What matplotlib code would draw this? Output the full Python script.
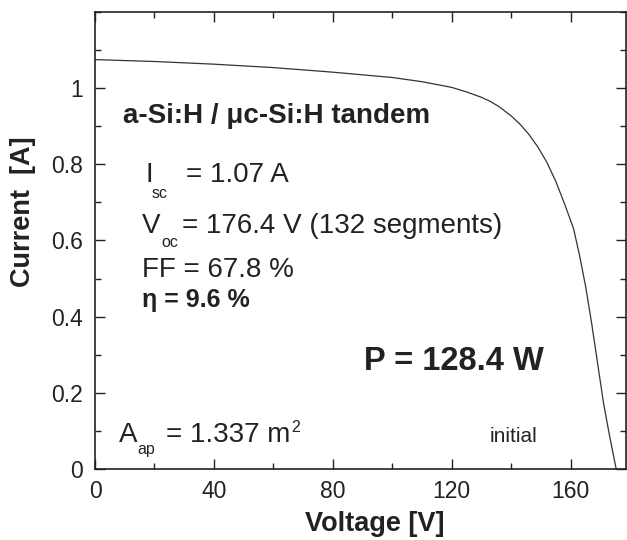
import matplotlib
matplotlib.use("Agg")
import matplotlib.pyplot as plt
from matplotlib.ticker import MultipleLocator

# Data
voltage = [0, 20, 40, 60, 80, 100, 110, 120, 125, 130, 133, 136, 140, 143, 146, 149, 152, 155, 158, 161, 163,
           165, 167, 169, 171, 173, 175.3]
current = [1.075, 1.070, 1.063, 1.054, 1.042, 1.028, 1.017, 1.002, 0.990, 0.976, 0.965, 0.951, 0.927, 0.905,
           0.878, 0.845, 0.805, 0.755, 0.695, 0.630, 0.560, 0.480, 0.385, 0.280, 0.175, 0.090, 0.0]
xticks = [0, 40, 80, 120, 160]
yticks = [0, 0.2, 0.4, 0.6, 0.8, 1.0]
yticklabels = ["0", "0.2", "0.4", "0.6", "0.8", "1"]

plt.rcParams['font.family'] = ['Liberation Sans', 'DejaVu Sans']
W, H = 627, 540
fig = plt.figure(figsize=(W / 100, H / 100), dpi=100)
fig.patch.set_facecolor('white')
ax = fig.add_axes([95 / W, 1 - 469 / H, (626 - 95) / W, (469 - 12) / H])

col = '#222222'
ax.plot(voltage, current, color='#333333', lw=0.9)
ax.set_xlim(0, 178.6)
ax.set_ylim(0, 1.2)
ax.set_xticks(xticks)
ax.set_xticklabels([str(v) for v in xticks])
ax.set_yticks(yticks)
ax.set_yticklabels(yticklabels)
ax.xaxis.set_minor_locator(MultipleLocator(20))
ax.yaxis.set_minor_locator(MultipleLocator(0.1))
ax.tick_params(which='both', direction='in', top=True, right=True, colors=col,
               labelcolor=col, width=1.0)
ax.tick_params(which='major', length=7, labelsize=16.5)
ax.tick_params(which='minor', length=4)
ax.tick_params(axis='x', which='major', pad=8)
ax.tick_params(axis='y', which='major', pad=9)
for s in ax.spines.values():
    s.set_linewidth(1.2)
    s.set_color(col)

ax.set_xlabel('Voltage [V]', fontsize=19.5, fontweight='bold', color=col)
ax.xaxis.label.set_va('baseline')
ax.xaxis.set_label_coords((375 - 95) / (626 - 95), (469 - 531) / (469 - 12))
ax.set_ylabel('Current  [A]', fontsize=19.5, fontweight='bold', color=col)
ax.yaxis.label.set_va('center')
ax.yaxis.set_label_coords((23 - 95) / (626 - 95), (469 - 212) / (469 - 12))


def txt(x, y, s, size, weight='normal', va='baseline'):
    fig.text(x / W, 1 - y / H, s, fontsize=size, fontweight=weight, color=col,
             ha='left', va=va)


txt(123, 123, 'a-Si:H / \u03bcc-Si:H tandem', 20, 'bold')
txt(146, 182, 'I', 20)
txt(152, 198, 'sc', 11.5)
txt(186, 182, '= 1.07 A', 20)
txt(142, 233, 'V', 20)
txt(161, 247, 'oc', 11.5)
txt(182, 233, '= 176.4 V (132 segments)', 20)
txt(142, 277, 'FF = 67.8 %', 20)
txt(142, 307, '\u03b7 = 9.6 %', 18, 'bold')
txt(364, 370, 'P = 128.4 W', 23.5, 'bold')
txt(119, 442, 'A', 20)
txt(137, 454, 'ap', 11.5)
txt(166, 442, '= 1.337 m', 20)
txt(291, 432, '2', 11.5)
txt(490, 442, 'initial', 15)

fig.savefig('out.png', dpi=100, facecolor='white')
